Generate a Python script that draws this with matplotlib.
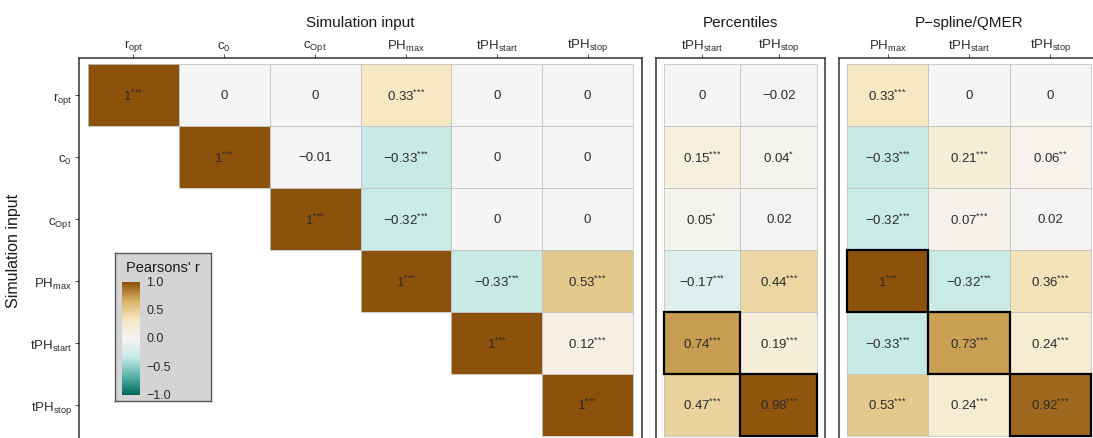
import numpy as np
import matplotlib
matplotlib.use("Agg")
import matplotlib.pyplot as plt
from matplotlib.colors import LinearSegmentedColormap, Normalize
from matplotlib.patches import Rectangle

plt.rcParams['font.family'] = ['Liberation Sans', 'DejaVu Sans']
plt.rcParams['mathtext.fontset'] = 'custom'
plt.rcParams['mathtext.rm'] = 'Liberation Sans'
plt.rcParams['mathtext.it'] = 'Liberation Sans'

# ---- data ----
row_labels = [r"$\mathregular{r_{opt}}$", r"$\mathregular{c_{0}}$", r"$\mathregular{c_{Opt}}$",
              r"$\mathregular{PH_{max}}$", r"$\mathregular{tPH_{start}}$", r"$\mathregular{tPH_{stop}}$"]

sim_cols = row_labels
sim_vals = [
    [1, 0, 0, 0.33, 0, 0],
    [np.nan, 1, -0.01, -0.33, 0, 0],
    [np.nan, np.nan, 1, -0.32, 0, 0],
    [np.nan, np.nan, np.nan, 1, -0.33, 0.53],
    [np.nan, np.nan, np.nan, np.nan, 1, 0.12],
    [np.nan, np.nan, np.nan, np.nan, np.nan, 1],
]
sim_sig = [
    ["***", "", "", "***", "", ""],
    ["", "***", "", "***", "", ""],
    ["", "", "***", "***", "", ""],
    ["", "", "", "***", "***", "***"],
    ["", "", "", "", "***", "***"],
    ["", "", "", "", "", "***"],
]

pct_cols = [r"$\mathregular{tPH_{start}}$", r"$\mathregular{tPH_{stop}}$"]
pct_vals = [
    [0, -0.02],
    [0.15, 0.04],
    [0.05, 0.02],
    [-0.17, 0.44],
    [0.74, 0.19],
    [0.47, 0.98],
]
pct_sig = [
    ["", ""],
    ["***", "*"],
    ["*", ""],
    ["***", "***"],
    ["***", "***"],
    ["***", "***"],
]
pct_match = [(4, 0), (5, 1)]

psp_cols = [r"$\mathregular{PH_{max}}$", r"$\mathregular{tPH_{start}}$", r"$\mathregular{tPH_{stop}}$"]
psp_vals = [
    [0.33, 0, 0],
    [-0.33, 0.21, 0.06],
    [-0.32, 0.07, 0.02],
    [1, -0.32, 0.36],
    [-0.33, 0.73, 0.24],
    [0.53, 0.24, 0.92],
]
psp_sig = [
    ["***", "", ""],
    ["***", "***", "**"],
    ["***", "***", ""],
    ["***", "***", "***"],
    ["***", "***", "***"],
    ["***", "***", "***"],
]
psp_match = [(3, 0), (4, 1), (5, 2)]

panel_titles = ["Simulation input", "Percentiles", "P\u2212spline/QMER"]
legend_ticks = [1.0, 0.5, 0.0, -0.5, -1.0]

# ---- style ----
cmap = LinearSegmentedColormap.from_list(
    "brbg7", ["#01665E", "#5AB4AC", "#C7EAE5", "#F5F5F5", "#F6E8C3", "#D8B365", "#8C510A"])
norm = Normalize(-1, 1)
txt_col = "#2b2b2b"
frame_col = "#333333"

W, H = 1093, 439
fig = plt.figure(figsize=(W / 100, H / 100), dpi=100)


def px_axes(x0, x1, y0, y1):
    return fig.add_axes([x0 / W, 1 - y1 / H, (x1 - x0) / W, (y1 - y0) / H])


def fmt(v, s):
    t = "0" if v == 0 else f"{v:g}"
    if s:
        stars = "".join("{*}" for _ in s)
        return r"$\mathregular{" + t + "^{" + stars + "}}$"
    return t.replace("-", "\u2212")


def draw_panel(ax, vals, sig, cols, title, match=(), ylabels=False):
    arr = np.ma.masked_invalid(np.array(vals, dtype=float))
    nr, nc = arr.shape
    ax.pcolormesh(np.arange(nc + 1) - 0.5, np.arange(nr + 1) - 0.5, arr,
                  cmap=cmap, norm=norm, edgecolors="none")
    for i in range(nr):
        for j in range(nc):
            v = vals[i][j]
            if np.isnan(v):
                continue
            ax.add_patch(Rectangle((j - 0.5, i - 0.5), 1, 1, fill=False,
                                   edgecolor="#c4c4c4", linewidth=0.6, zorder=2))
            ax.text(j, i, fmt(v, sig[i][j]), ha="center", va="center",
                    fontsize=9.5, color=txt_col, zorder=6)
    for (i, j) in match:
        ax.add_patch(Rectangle((j - 0.5, i - 0.5), 1, 1, fill=False,
                               edgecolor="black", linewidth=1.6, zorder=5))
    ax.set_xlim(-0.6, nc - 0.4)
    ax.set_ylim(nr - 0.4, -0.6)
    ax.xaxis.tick_top()
    ax.set_xticks(range(nc))
    ax.set_xticklabels(cols, fontsize=9.5, color=txt_col)
    ax.tick_params(axis="x", length=3, width=0.6, color=frame_col, pad=0.5)
    if ylabels:
        ax.set_yticks(range(nr))
        ax.set_yticklabels(row_labels, fontsize=9.5, color=txt_col)
        ax.tick_params(axis="y", length=3, width=0.6, color=frame_col, pad=2)
    else:
        ax.set_yticks([])
    for sp in ax.spines.values():
        sp.set_color(frame_col)
        sp.set_linewidth(1.1)
    ax.set_title(title, fontsize=11, color="#1a1a1a", pad=23)


ax1 = px_axes(79, 642, 59, 443)
ax2 = px_axes(656, 825, 59, 443)
ax3 = px_axes(839, 1099, 59, 443)

draw_panel(ax1, sim_vals, sim_sig, sim_cols, panel_titles[0], ylabels=True)
draw_panel(ax2, pct_vals, pct_sig, pct_cols, panel_titles[1], match=pct_match)
draw_panel(ax3, psp_vals, psp_sig, psp_cols, panel_titles[2], match=psp_match)

fig.text(14 / W, 1 - 251 / H, "Simulation input", rotation=90, ha="center",
         va="center", fontsize=11.5, color="#1a1a1a")

# ---- colour legend ----
box = px_axes(115, 211, 254, 402)
box.set_xticks([]); box.set_yticks([])
box.set_facecolor("#d4d4d4")
for sp in box.spines.values():
    sp.set_color("#555555"); sp.set_linewidth(1.0)
box.text(0.5, 1 - 14 / 148, "Pearsons' r", transform=box.transAxes,
         ha="center", va="center", fontsize=10.5, color="#1a1a1a")

cb = px_axes(122, 140, 283, 396)
grad = np.linspace(1, -1, 256).reshape(-1, 1)
cb.imshow(grad, cmap=cmap, norm=norm, aspect="auto", extent=(0, 1, -1, 1))
cb.set_xlim(0, 1); cb.set_ylim(-1, 1)
cb.set_xticks([]); cb.set_yticks([])
for sp in cb.spines.values():
    sp.set_visible(False)
for t in legend_ticks:
    cb.text(1.35, t, f"{t:.1f}".replace("-", "\u2212"), ha="left", va="center",
            fontsize=9, color=txt_col, transform=cb.get_yaxis_transform(), clip_on=False)

fig.savefig("out.png", dpi=100, facecolor="white")
